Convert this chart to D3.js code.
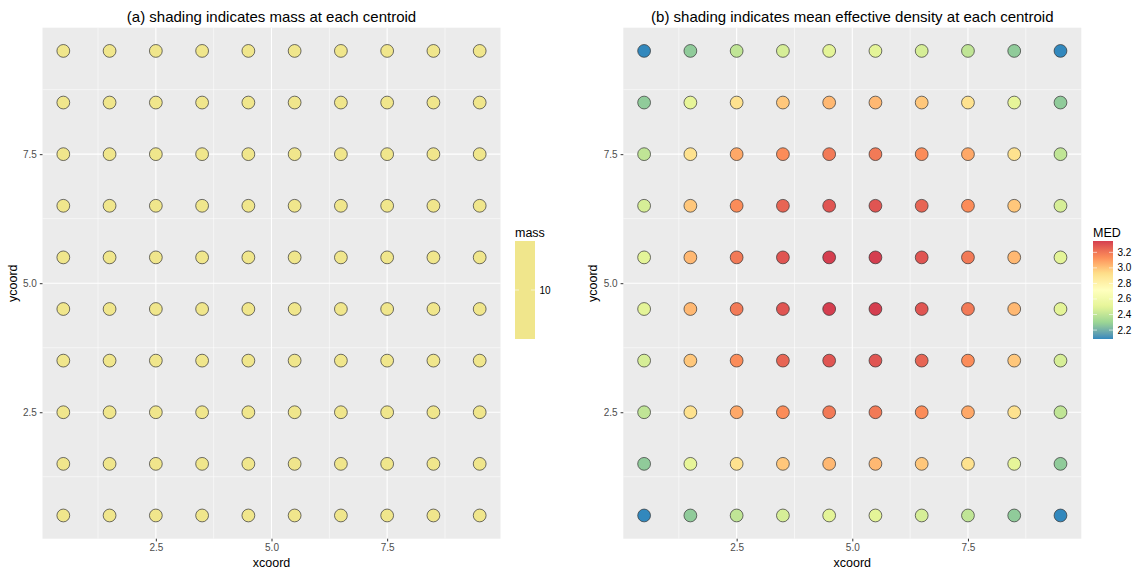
<!DOCTYPE html>
<html>
<head>
<meta charset="utf-8">
<script src="https://cdn.jsdelivr.net/npm/d3@7"></script>
<style>
  html, body { margin: 0; padding: 0; background: #ffffff; }
  svg { display: block; font-family: "Liberation Sans", Arial, sans-serif; }
</style>
</head>
<body>
<svg id="chart" width="1140" height="574"></svg>
<script>
// Grid of centroids
const xcoord = [0.5, 1.5, 2.5, 3.5, 4.5, 5.5, 6.5, 7.5, 8.5, 9.5];
const ycoord = [9.5, 8.5, 7.5, 6.5, 5.5, 4.5, 3.5, 2.5, 1.5, 0.5];

// Mass at each centroid (rows top to bottom)
const massRows = [
  [10, 10, 10, 10, 10, 10, 10, 10, 10, 10],
  [10, 10, 10, 10, 10, 10, 10, 10, 10, 10],
  [10, 10, 10, 10, 10, 10, 10, 10, 10, 10],
  [10, 10, 10, 10, 10, 10, 10, 10, 10, 10],
  [10, 10, 10, 10, 10, 10, 10, 10, 10, 10],
  [10, 10, 10, 10, 10, 10, 10, 10, 10, 10],
  [10, 10, 10, 10, 10, 10, 10, 10, 10, 10],
  [10, 10, 10, 10, 10, 10, 10, 10, 10, 10],
  [10, 10, 10, 10, 10, 10, 10, 10, 10, 10],
  [10, 10, 10, 10, 10, 10, 10, 10, 10, 10]
];

// Mean effective density at each centroid (rows top to bottom)
const medRows = [
  [2.085, 2.27, 2.40, 2.46, 2.50, 2.50, 2.46, 2.40, 2.27, 2.085],
  [2.27, 2.51, 2.91, 2.99, 3.03, 3.03, 2.99, 2.91, 2.51, 2.27],
  [2.40, 2.91, 3.07, 3.14, 3.19, 3.19, 3.14, 3.07, 2.91, 2.40],
  [2.46, 2.99, 3.14, 3.25, 3.29, 3.29, 3.25, 3.14, 2.99, 2.46],
  [2.50, 3.03, 3.19, 3.29, 3.346, 3.346, 3.29, 3.19, 3.03, 2.50],
  [2.50, 3.03, 3.19, 3.29, 3.346, 3.346, 3.29, 3.19, 3.03, 2.50],
  [2.46, 2.99, 3.14, 3.25, 3.29, 3.29, 3.25, 3.14, 2.99, 2.46],
  [2.40, 2.91, 3.07, 3.14, 3.19, 3.19, 3.14, 3.07, 2.91, 2.40],
  [2.27, 2.51, 2.91, 2.99, 3.03, 3.03, 2.99, 2.91, 2.51, 2.27],
  [2.085, 2.27, 2.40, 2.46, 2.50, 2.50, 2.46, 2.40, 2.27, 2.085]
];

const axisTicks = [2.5, 5.0, 7.5];
const minorBreaks = [1.25, 3.75, 6.25, 8.75];
const medLegendTicks = [2.2, 2.4, 2.6, 2.8, 3.0, 3.2];
const massLegendTicks = [10];

const titleA = "(a) shading indicates mass at each centroid";
const titleB = "(b) shading indicates mean effective density at each centroid";

// Spectral palette, low values blue, high values red
const spectral7 = ["#3288BD", "#99D594", "#E6F598", "#FFFFBF", "#FEE08B", "#FC8D59", "#D53E4F"];
const massColour = "#F0E68C";

const svg = d3.select("#chart");
const font = "\"Liberation Sans\", Arial, sans-serif";

function flatten(rows, key) {
  const out = [];
  rows.forEach((row, i) => row.forEach((v, j) => out.push({ x: xcoord[j], y: ycoord[i], [key]: v })));
  return out;
}
const massData = flatten(massRows, "mass");
const medData = flatten(medRows, "med");

const medExtent = d3.extent(medData, d => d.med);
const medColour = d3.scaleLinear()
  .domain(d3.range(7).map(i => medExtent[0] + i * (medExtent[1] - medExtent[0]) / 6))
  .range(spectral7)
  .interpolate(d3.interpolateLab);

function drawPanel(opts) {
  const { left, right, top, bottom, title, data, fill } = opts;
  const x = d3.scaleLinear().domain([0.05, 9.95]).range([left, right]);
  const y = d3.scaleLinear().domain([0.05, 9.95]).range([bottom, top]);
  const g = svg.append("g");

  g.append("rect").attr("x", left).attr("y", top)
    .attr("width", right - left).attr("height", bottom - top).attr("fill", "#EBEBEB");

  // minor grid
  g.selectAll(".vminor").data(minorBreaks).join("line")
    .attr("x1", d => x(d)).attr("x2", d => x(d)).attr("y1", top).attr("y2", bottom)
    .attr("stroke", "#ffffff").attr("stroke-width", 0.55);
  g.selectAll(".hminor").data(minorBreaks).join("line")
    .attr("y1", d => y(d)).attr("y2", d => y(d)).attr("x1", left).attr("x2", right)
    .attr("stroke", "#ffffff").attr("stroke-width", 0.55);
  // major grid
  g.selectAll(".vmajor").data(axisTicks).join("line")
    .attr("x1", d => x(d)).attr("x2", d => x(d)).attr("y1", top).attr("y2", bottom)
    .attr("stroke", "#ffffff").attr("stroke-width", 1.1);
  g.selectAll(".hmajor").data(axisTicks).join("line")
    .attr("y1", d => y(d)).attr("y2", d => y(d)).attr("x1", left).attr("x2", right)
    .attr("stroke", "#ffffff").attr("stroke-width", 1.1);

  // points
  g.selectAll("circle").data(data).join("circle")
    .attr("cx", d => x(d.x)).attr("cy", d => y(d.y)).attr("r", 6.4)
    .attr("fill", fill).attr("stroke", "#333333").attr("stroke-width", 0.7);

  // axes
  const xAxis = d3.axisBottom(x).tickValues(axisTicks).tickFormat(d3.format(".1f")).tickSize(2.7).tickPadding(3);
  const yAxis = d3.axisLeft(y).tickValues(axisTicks).tickFormat(d3.format(".1f")).tickSize(2.7).tickPadding(3);
  const gx = g.append("g").attr("transform", `translate(0,${bottom})`).call(xAxis);
  const gy = g.append("g").attr("transform", `translate(${left},0)`).call(yAxis);
  [gx, gy].forEach(a => {
    a.select(".domain").remove();
    a.selectAll(".tick line").attr("stroke", "#333333").attr("stroke-width", 1);
    a.selectAll(".tick text").attr("fill", "#4D4D4D").style("font-size", "10px").style("font-family", font);
  });

  g.append("text").attr("x", (left + right) / 2).attr("y", 567)
    .attr("text-anchor", "middle").style("font-size", "12.5px").attr("fill", "#000").text("xcoord");
  g.append("text")
    .attr("transform", `translate(${left - 26},${(top + bottom) / 2}) rotate(-90)`)
    .attr("text-anchor", "middle").style("font-size", "12.5px").attr("fill", "#000").text("ycoord");
  g.append("text").attr("x", (left + right) / 2).attr("y", 21.5)
    .attr("text-anchor", "middle").style("font-size", "15px").attr("fill", "#000").text(title);
}

drawPanel({ left: 42.5, right: 500.5, top: 27.7, bottom: 538.7, title: titleA,
  data: massData, fill: () => massColour });
drawPanel({ left: 623.3, right: 1081.3, top: 27.7, bottom: 538.7, title: titleB,
  data: medData, fill: d => medColour(d.med) });

// colour bar legends
function drawColourBar(opts) {
  const { x0, title, ticks, scaleY, colourAt, nStops } = opts;
  const barTop = 241, barBottom = 339, barW = 20;
  const g = svg.append("g");
  const id = "grad-" + title;
  const grad = svg.append("defs").append("linearGradient").attr("id", id)
    .attr("x1", 0).attr("y1", 1).attr("x2", 0).attr("y2", 0);
  d3.range(nStops + 1).forEach(i => {
    const t = i / nStops;
    grad.append("stop").attr("offset", t).attr("stop-color", colourAt(t));
  });
  g.append("text").attr("x", x0).attr("y", 237).style("font-size", "12.5px").attr("fill", "#000").text(title);
  g.append("rect").attr("x", x0).attr("y", barTop).attr("width", barW).attr("height", barBottom - barTop)
    .attr("fill", `url(#${id})`);
  ticks.forEach(v => {
    const yy = scaleY(v);
    g.append("line").attr("x1", x0).attr("x2", x0 + 4).attr("y1", yy).attr("y2", yy)
      .attr("stroke", "#ffffff").attr("stroke-width", 0.6);
    g.append("line").attr("x1", x0 + barW - 4).attr("x2", x0 + barW).attr("y1", yy).attr("y2", yy)
      .attr("stroke", "#ffffff").attr("stroke-width", 0.6);
    g.append("text").attr("x", x0 + barW + 4.5).attr("y", yy).attr("dy", "0.35em")
      .style("font-size", "10px").attr("fill", "#000").text(d3.format(".1f")(v).replace(/\.0$/, v >= 10 ? "" : ".0"));
  });
}

drawColourBar({
  x0: 515, title: "mass", ticks: massLegendTicks, nStops: 2,
  scaleY: () => 290, colourAt: () => massColour
});

const medLegendY = d3.scaleLinear().domain(medExtent).range([339, 241]);
drawColourBar({
  x0: 1093, title: "MED", ticks: medLegendTicks, nStops: 40,
  scaleY: v => medLegendY(v),
  colourAt: t => medColour(medExtent[0] + t * (medExtent[1] - medExtent[0]))
});
</script>
</body>
</html>
